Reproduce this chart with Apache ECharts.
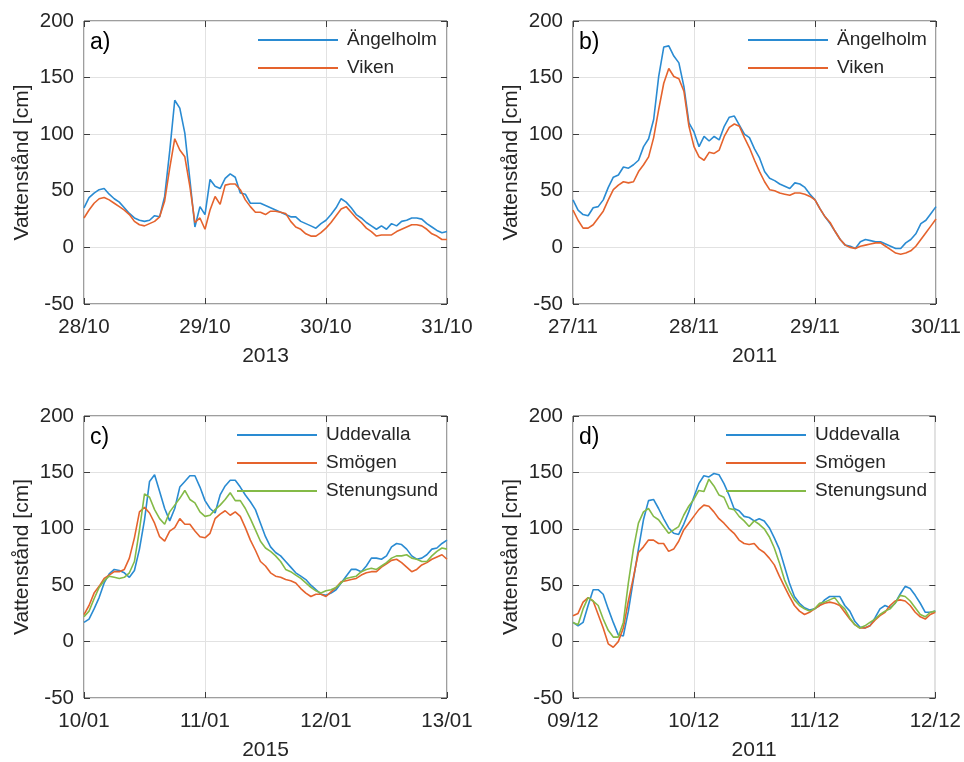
<!DOCTYPE html>
<html>
<head>
<meta charset="utf-8">
<script src="https://cdn.jsdelivr.net/npm/echarts@6/dist/echarts.min.js"></script>
<style>html,body{margin:0;padding:0;background:#fff;}#chart{width:964px;height:762px;}</style>
</head>
<body>
<div id="chart"></div>
<script>
// ---- Data (hourly water levels, cm) ----
const ticksA = ['28/10', '29/10', '30/10', '31/10'];
const ticksB = ['27/11', '28/11', '29/11', '30/11'];
const ticksC = ['10/01', '11/01', '12/01', '13/01'];
const ticksD = ['09/12', '10/12', '11/12', '12/12'];
const yearA = '2013', yearB = '2011', yearC = '2015', yearD = '2011';
const yTicks = [-50, 0, 50, 100, 150, 200];

const angelholmA = [35,44,48,51,52,47,43,40,35,30,26,24,23,24,28,27,45,85,130,123,101,60,18,36,29,60,54,52,61,65,62,48,47,39,39,39,37,35,33,31,29,27,27,23,21,19,17,21,24,29,35,43,40,35,29,26,22,19,16,19,16,21,19,23,24,26,26,25,21,18,15,13,14];
const vikenA = [26,33,39,43,44,42,39,36,33,29,23,20,19,21,23,27,41,70,96,86,80,54,22,26,16,33,45,38,55,56,56,51,42,36,31,31,29,32,32,31,30,23,18,16,12,10,10,13,17,22,28,34,36,31,26,22,17,14,10,11,11,11,14,16,18,20,20,19,16,12,10,7,7];

const angelholmB = [42,33,29,28,35,36,42,53,62,64,71,70,73,77,89,96,113,151,177,178,169,163,142,110,102,89,98,94,98,95,107,115,116,108,100,97,87,79,67,61,59,56,54,52,57,56,53,47,42,34,27,21,14,7,2,1,-1,5,7,6,5,5,3,1,-1,-1,4,7,12,21,24,30,36];
const vikenB = [33,24,17,17,20,26,32,42,51,55,58,57,58,67,73,80,97,122,145,158,151,149,138,107,89,80,77,84,83,86,98,106,109,107,97,88,77,67,58,51,50,48,47,46,48,48,47,45,42,34,27,22,14,7,2,0,-1,1,2,3,4,4,1,-2,-5,-6,-5,-3,1,7,13,19,25];

const uddevallaC = [17,20,29,39,52,60,64,63,61,57,63,82,108,142,148,133,118,107,118,137,142,147,147,137,125,118,114,130,138,143,143,137,130,124,117,105,93,84,79,76,71,66,61,58,55,50,46,42,41,43,46,52,58,64,64,62,67,74,74,73,76,84,87,86,82,76,73,74,77,82,83,87,90];
const smogenC = [24,32,43,49,56,59,62,62,64,74,92,115,119,114,105,93,89,98,101,109,104,104,98,93,92,96,109,113,116,112,115,111,101,90,81,71,67,61,58,57,55,54,52,47,43,40,42,42,40,44,48,53,54,55,56,59,61,62,62,66,69,72,73,70,66,62,64,68,70,73,75,77,73];
const stenungsundC = [22,27,38,48,54,58,57,56,57,61,71,99,131,128,117,109,104,115,121,127,134,126,123,115,111,112,117,121,126,132,125,125,118,109,99,89,83,80,76,71,64,62,59,56,52,48,45,43,45,46,48,52,56,57,58,62,64,65,64,67,70,74,76,76,77,74,73,71,71,76,80,83,82];

const uddevallaD = [17,14,17,32,46,46,42,29,17,6,5,27,55,82,108,125,126,118,109,101,96,95,104,115,128,140,147,146,149,148,140,130,118,116,111,110,107,109,107,101,92,82,67,52,40,34,30,28,29,32,37,40,40,40,32,27,18,13,12,14,21,29,32,30,34,42,49,47,41,34,26,26,27];
const smogenD = [23,25,35,39,36,24,12,-2,-5,0,12,36,57,79,84,90,90,87,87,80,82,89,99,105,111,117,121,120,115,109,105,100,96,90,87,86,87,82,79,74,68,58,49,40,32,27,24,26,29,32,34,35,34,32,26,20,15,12,12,14,19,23,26,32,36,37,36,32,26,22,20,24,26];
const stenungsundD = [17,15,29,39,36,32,20,10,4,4,17,52,82,105,115,118,111,108,102,96,99,102,112,120,126,134,133,144,138,130,128,118,117,111,107,102,107,104,100,93,83,70,55,45,37,32,29,27,29,34,35,37,39,33,29,21,15,12,14,17,20,24,27,29,34,41,40,36,30,24,22,26,27];

// ---- Styling ----
const FONT = 'Liberation Sans, Arial, sans-serif';
const TXT = '#262626';
const BOX = '#3c3c3c';
const GRIDC = '#e2e2e2';
const C_BLUE = '#2a8bd2';
const C_ORANGE = '#e5632d';
const C_GREEN = '#84ba47';

const panels = [
  {left: 84, top: 21, h: 283, ticks: ticksA, year: yearA, label: 'a)',
   series: [['Ängelholm', angelholmA, C_BLUE], ['Viken', vikenA, C_ORANGE]], legendLeft: 258, legendTop: 26},
  {left: 573, top: 21, h: 283, ticks: ticksB, year: yearB, label: 'b)',
   series: [['Ängelholm', angelholmB, C_BLUE], ['Viken', vikenB, C_ORANGE]], legendLeft: 748, legendTop: 26},
  {left: 84, top: 416, h: 282, ticks: ticksC, year: yearC, label: 'c)',
   series: [['Uddevalla', uddevallaC, C_BLUE], ['Smögen', smogenC, C_ORANGE], ['Stenungsund', stenungsundC, C_GREEN]], legendLeft: 237, legendTop: 421},
  {left: 573, top: 416, h: 282, ticks: ticksD, year: yearD, label: 'd)',
   series: [['Uddevalla', uddevallaD, C_BLUE], ['Smögen', smogenD, C_ORANGE], ['Stenungsund', stenungsundD, C_GREEN]], legendLeft: 726, legendTop: 421}
];

const grid = [], xAxis = [], yAxis = [], series = [], legend = [], title = [];
const tickStyle = {show: true, inside: true, length: 6, lineStyle: {color: BOX, width: 1}};
panels.forEach((p, i) => {
  grid.push({left: p.left, top: p.top, width: 363, height: p.h, show: true, borderColor: BOX, borderWidth: 1, backgroundColor: 'transparent'});
  xAxis.push({
    type: 'value', gridIndex: i, min: 0, max: 72, interval: 24, position: 'bottom',
    axisLine: {show: false, onZero: false}, axisTick: tickStyle,
    splitLine: {show: true, lineStyle: {color: GRIDC, width: 1}},
    axisLabel: {color: TXT, fontSize: 20.5, fontFamily: FONT, margin: 13, formatter: v => p.ticks[Math.round(v / 24)]},
    name: p.year, nameLocation: 'middle', nameGap: 42,
    nameTextStyle: {color: TXT, fontSize: 21, fontFamily: FONT}
  });
  yAxis.push({
    type: 'value', gridIndex: i, min: yTicks[0], max: yTicks[yTicks.length - 1], interval: 50, position: 'left',
    axisLine: {show: false, onZero: false}, axisTick: tickStyle,
    splitLine: {show: true, lineStyle: {color: GRIDC, width: 1}},
    axisLabel: {color: TXT, fontSize: 20.5, fontFamily: FONT, margin: 10},
    name: 'Vattenstånd [cm]', nameLocation: 'middle', nameGap: 51,
    nameTextStyle: {color: TXT, fontSize: 21, fontFamily: FONT}
  });
  p.series.forEach(s => {
    series.push({
      type: 'line', name: s[0], xAxisIndex: i, yAxisIndex: i,
      data: s[1].map((v, h) => [h, v]),
      symbol: 'none', showSymbol: false, smooth: false,
      lineStyle: {color: s[2], width: 1.6}, itemStyle: {color: s[2]},
      emphasis: {disabled: true}, z: 3
    });
  });
  legend.push({
    orient: 'vertical', left: p.legendLeft, top: p.legendTop,
    data: p.series.map(s => ({name: s[0], icon: 'rect'})), itemWidth: 80, itemHeight: 1.8, itemGap: 0, padding: 0,
    selectedMode: false,
    textStyle: {color: TXT, fontSize: 19, fontFamily: FONT, lineHeight: 28, padding: [0, 0, 0, 4]}
  });
  title.push({
    text: p.label, left: p.left + 6, top: p.top + 10.5, padding: 0,
    textStyle: {color: '#000', fontSize: 23, fontWeight: 'normal', fontFamily: FONT, lineHeight: 23}
  });
});
// mirrored ticks (top and right)
panels.forEach((p, i) => {
  xAxis.push({type: 'value', gridIndex: i, min: 0, max: 72, interval: 24, position: 'top',
    axisLine: {show: false, onZero: false}, axisTick: tickStyle, splitLine: {show: false}, axisLabel: {show: false}});
  yAxis.push({type: 'value', gridIndex: i, min: -50, max: 200, interval: 50, position: 'right',
    axisLine: {show: false, onZero: false}, axisTick: tickStyle, splitLine: {show: false}, axisLabel: {show: false}});
});

const chart = echarts.init(document.getElementById('chart'), null, {renderer: 'canvas'});
chart.setOption({
  animation: false,
  backgroundColor: '#fff',
  title, grid, xAxis, yAxis, series, legend
});
</script>
</body>
</html>
